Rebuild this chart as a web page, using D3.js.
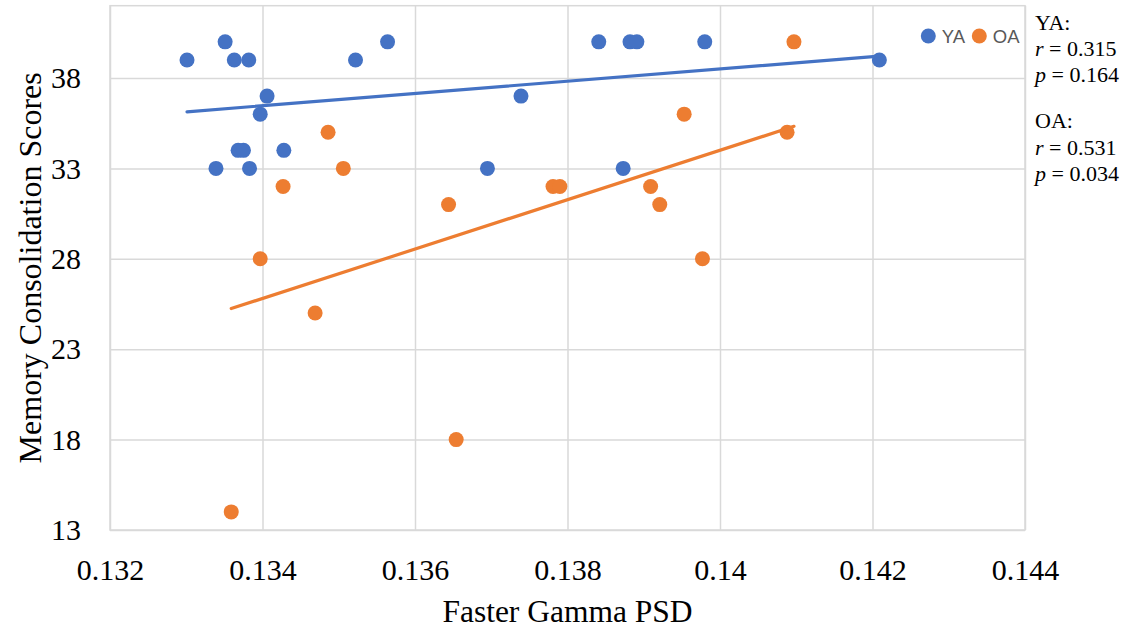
<!DOCTYPE html>
<html>
<head>
<meta charset="utf-8">
<script src="https://d3js.org/d3.v7.min.js"></script>
<style>
  body { margin: 0; background: #fff; }
  svg { display: block; }
</style>
</head>
<body>
<div id="chart"></div>
<script>
// young adults
const yaPsd = [0.13301, 0.13351, 0.13363, 0.13382, 0.13522, 0.13564, 0.13406, 0.13397, 0.13368, 0.13375, 0.13428,
               0.13339, 0.13383, 0.13695, 0.13841, 0.13882, 0.13891, 0.13980, 0.14209, 0.13739, 0.13873];
const yaScore = [39, 40, 39, 39, 39, 40, 37, 36, 34, 34, 34,
                 33, 33, 33, 40, 40, 40, 40, 39, 37, 33];

// older adults
const oaPsd = [0.13486, 0.13506, 0.13427, 0.13644, 0.13781, 0.13790, 0.13397, 0.13469,
               0.13909, 0.13921, 0.13977, 0.13953, 0.14088, 0.14097, 0.13654, 0.13359];
const oaScore = [35, 33, 32, 31, 32, 32, 28, 25,
                 32, 31, 28, 36, 35, 40, 18, 14];

const xTicks = [0.132, 0.134, 0.136, 0.138, 0.140, 0.142, 0.144];
const xTickLabels = ["0.132", "0.134", "0.136", "0.138", "0.14", "0.142", "0.144"];
const yTicks = [13, 18, 23, 28, 33, 38];

const groups = ["YA", "OA"];
const groupColors = ["#4472C4", "#ED7D31"];
const statR = ["0.315", "0.531"];
const statP = ["0.164", "0.034"];

const width = 1123, height = 628;
const plot = { left: 110, top: 5.7, right: 1025, bottom: 530 };
const serif = "'Liberation Serif', 'Times New Roman', serif";

const svg = d3.select("#chart").append("svg")
  .attr("width", width)
  .attr("height", height)
  .style("background", "#fff");

const x = d3.scaleLinear().domain([0.132, 0.144]).range([plot.left, plot.right]);
const y = d3.scaleLinear().domain([13, 42]).range([plot.bottom, plot.top]);

// plot frame
svg.append("rect")
  .attr("x", plot.left).attr("y", plot.top)
  .attr("width", plot.right - plot.left)
  .attr("height", plot.bottom - plot.top)
  .attr("fill", "none")
  .attr("stroke", "#D9D9D9")
  .attr("stroke-width", 1.5);

// x axis with vertical gridlines
const xAxis = svg.append("g")
  .attr("transform", `translate(0,${plot.bottom})`)
  .call(d3.axisBottom(x)
    .tickValues(xTicks)
    .tickSize(-(plot.bottom - plot.top))
    .tickFormat((d, i) => xTickLabels[i]));
xAxis.select(".domain").remove();
xAxis.selectAll(".tick line").attr("stroke", "#D9D9D9").attr("stroke-width", 1.5);
xAxis.selectAll(".tick text")
  .attr("y", 49.5)
  .attr("dy", null)
  .attr("fill", "#000")
  .style("font-family", serif)
  .style("font-size", "30px");

// y axis with horizontal gridlines
const yAxis = svg.append("g")
  .attr("transform", `translate(${plot.left},0)`)
  .call(d3.axisLeft(y)
    .tickValues(yTicks)
    .tickSize(-(plot.right - plot.left))
    .tickPadding(29));
yAxis.select(".domain").remove();
yAxis.selectAll(".tick line").attr("stroke", "#D9D9D9").attr("stroke-width", 1.5);
yAxis.selectAll(".tick text")
  .attr("dy", "0.32em")
  .attr("fill", "#000")
  .style("font-family", serif)
  .style("font-size", "30px");

// axis titles
svg.append("text")
  .attr("x", (plot.left + plot.right) / 2)
  .attr("y", 621.5)
  .attr("text-anchor", "middle")
  .style("font-family", serif)
  .style("font-size", "31.5px")
  .text("Faster Gamma PSD");

svg.append("text")
  .attr("transform", `translate(41,${(plot.top + plot.bottom) / 2}) rotate(-90)`)
  .attr("text-anchor", "middle")
  .style("font-family", serif)
  .style("font-size", "32px")
  .text("Memory Consolidation Scores");

// least squares fit, drawn across the range of each group
function linearFit(xs, ys) {
  const mx = d3.mean(xs), my = d3.mean(ys);
  const sxy = d3.sum(xs, (v, i) => (v - mx) * (ys[i] - my));
  const sxx = d3.sum(xs, v => (v - mx) * (v - mx));
  const slope = sxy / sxx;
  return v => my + slope * (v - mx);
}

const series = [
  { psd: yaPsd, score: yaScore },
  { psd: oaPsd, score: oaScore }
];

series.forEach((s, k) => {
  const pts = s.psd.map((v, i) => [v, s.score[i]]);
  svg.append("g")
    .selectAll("circle")
    .data(pts)
    .join("circle")
    .attr("cx", d => x(d[0]))
    .attr("cy", d => y(d[1]))
    .attr("r", 7.5)
    .attr("fill", groupColors[k]);
});

series.forEach((s, k) => {
  const fit = linearFit(s.psd, s.score);
  const ends = d3.extent(s.psd);
  svg.append("path")
    .datum(ends)
    .attr("d", d3.line().x(d => x(d)).y(d => y(fit(d))))
    .attr("fill", "none")
    .attr("stroke", groupColors[k])
    .attr("stroke-width", 3.2)
    .attr("stroke-linecap", "round");
});

// legend
const legendX = [928.3, 979.3];
const legend = svg.append("g");
groups.forEach((g, k) => {
  legend.append("circle")
    .attr("cx", legendX[k]).attr("cy", 36)
    .attr("r", 7.5)
    .attr("fill", groupColors[k]);
  legend.append("text")
    .attr("x", legendX[k] + 13.5)
    .attr("y", 42.5)
    .attr("fill", "#595959")
    .style("font-family", "'Liberation Sans', Arial, sans-serif")
    .style("font-size", "18.5px")
    .text(g);
});

// correlation notes to the right of the plot
const notes = svg.append("g")
  .style("font-family", serif)
  .style("font-size", "22px");
const noteTop = [29.5, 128];
groups.forEach((g, k) => {
  const y0 = noteTop[k];
  notes.append("text").attr("x", 1035).attr("y", y0).text(g + ":");
  const rLine = notes.append("text").attr("x", 1035).attr("y", y0 + 26.5);
  rLine.append("tspan").style("font-style", "italic").text("r");
  rLine.append("tspan").text(" = " + statR[k]);
  const pLine = notes.append("text").attr("x", 1035).attr("y", y0 + 52.5);
  pLine.append("tspan").style("font-style", "italic").text("p");
  pLine.append("tspan").text(" = " + statP[k]);
});
</script>
</body>
</html>
